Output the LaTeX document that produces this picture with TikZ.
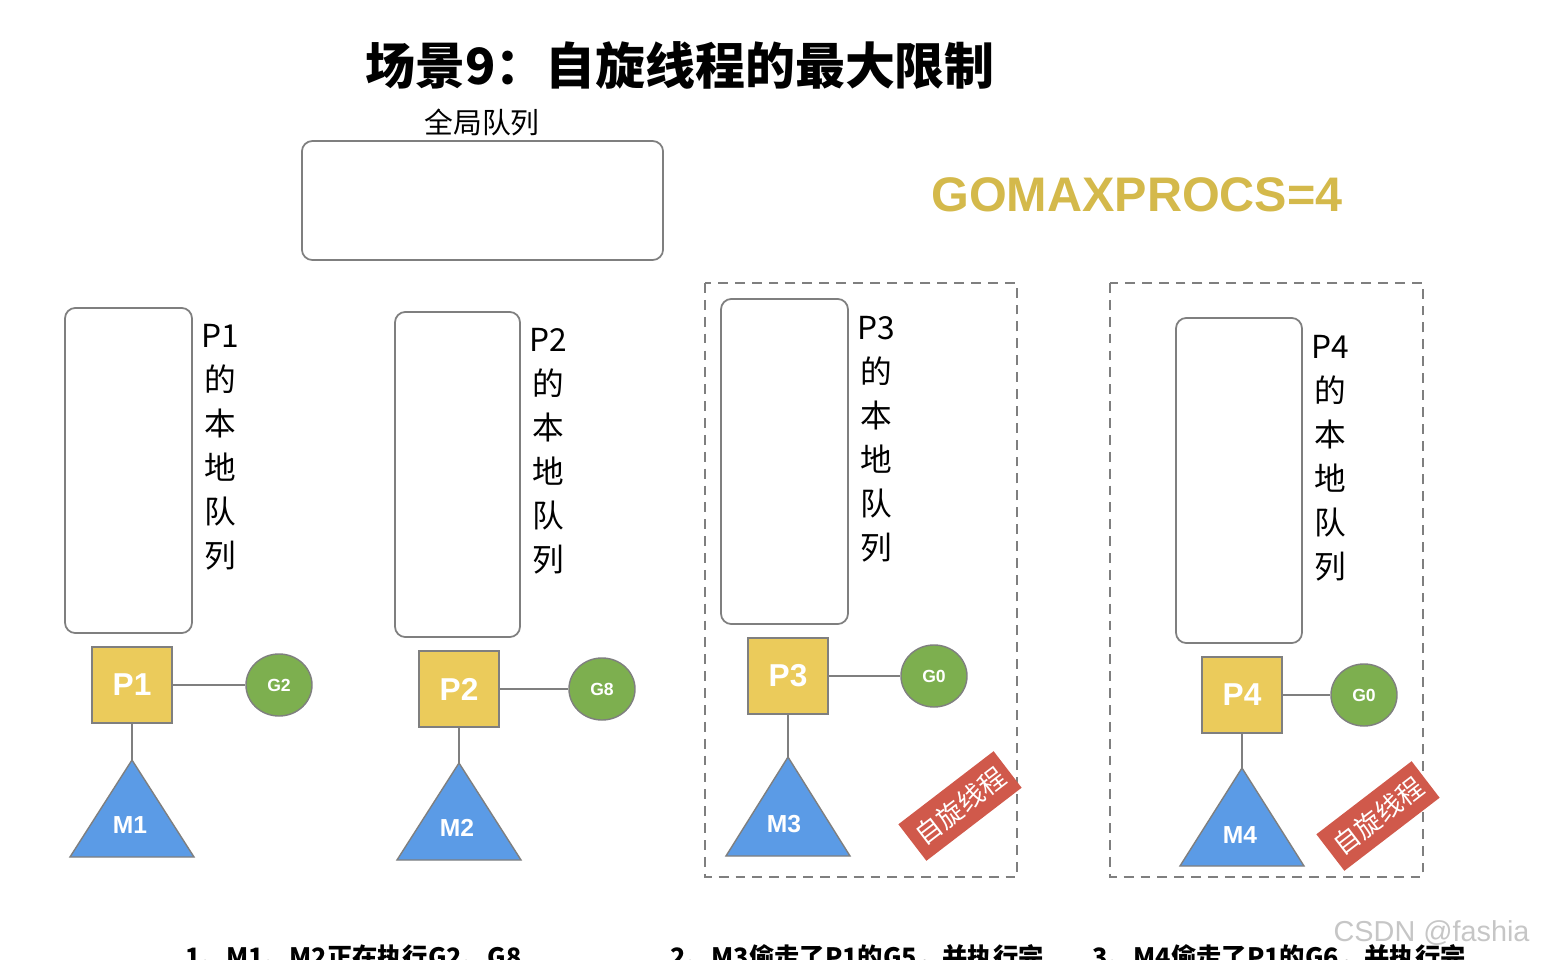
\documentclass[tikz,border=0pt]{standalone}
\usepackage{fontspec}
\setmainfont{Liberation Sans}
\newfontfamily\cjk{Noto Sans CJK SC}
\usetikzlibrary{positioning}
\usetikzlibrary{shapes.geometric}
\definecolor{pyellow}{HTML}{EBCB5B}
\definecolor{ggreen}{HTML}{7DAF4F}
\definecolor{mblue}{HTML}{5B9BE6}
\definecolor{spinred}{HTML}{D0594B}
\definecolor{maxgold}{HTML}{D4B94B}
\definecolor{edgegray}{HTML}{7F7F7F}

\begin{document}
\begin{tikzpicture}[x=0.01cm,y=-0.01cm,
queue/.style={draw=edgegray,line width=0.5pt,rounded corners=3pt,inner sep=0},
pbox/.style={draw=edgegray,fill=pyellow,minimum width=0.8cm,minimum height=0.76cm,inner sep=0,
  text=white,font=\bfseries\fontsize{9}{9}\selectfont},
gball/.style={ellipse,draw=edgegray,fill=ggreen,minimum width=0.66cm,minimum height=0.62cm,inner sep=0,
  text=white,font=\bfseries\fontsize{5}{5}\selectfont},
mtri/.style={draw=edgegray,fill=mblue},
mlabel/.style={text=white,font=\bfseries\fontsize{7}{7}\selectfont},
vlabel/.style={anchor=north,align=center,inner sep=0,font=\cjk\fontsize{9}{12.5}\selectfont},
spin/.style={fill=spinred,rotate=37.5,minimum width=1.2cm,minimum height=0.46cm,inner sep=0,
  text=white,font=\cjk\fontsize{7.5}{7.5}\selectfont},
dashbox/.style={draw=edgegray,line width=0.5pt,dash pattern=on 2.8pt off 2pt},
note/.style={anchor=base west,inner sep=0,font=\cjk\bfseries\fontsize{7.2}{7.2}\selectfont}]
\useasboundingbox (0,0) rectangle (1544,960);

% title
\node[font=\cjk\bfseries\fontsize{14.2}{14.2}\selectfont] (title) at (680,65) {场景9：自旋线程的最大限制};
\node[font=\cjk\fontsize{8.2}{8.2}\selectfont] (gqname) at (482,122) {全局队列};
\node[queue,minimum width=3.61cm,minimum height=1.19cm] (gq) at (482.5,200.5) {};
\node[text=maxgold,font=\bfseries\fontsize{13.8}{13.8}\selectfont] (maxp) at (1137,195) {GOMAXPROCS=4};

% spinning groups
\draw[dashbox] (705,283) rectangle (1017,877);
\draw[dashbox] (1110,283) rectangle (1423,877);

% local queues
\node[queue,minimum width=1.27cm,minimum height=3.25cm] (lq1) at (128.5,470.5) {};
\node[queue,minimum width=1.25cm,minimum height=3.25cm] (lq2) at (457.5,474.5) {};
\node[queue,minimum width=1.27cm,minimum height=3.25cm] (lq3) at (784.5,461.5) {};
\node[queue,minimum width=1.26cm,minimum height=3.25cm] (lq4) at (1239,480.5) {};
\node[vlabel] (lq1name) at (220,324) {P1\\的\\本\\地\\队\\列};
\node[vlabel] (lq2name) at (548,328) {P2\\的\\本\\地\\队\\列};
\node[vlabel] (lq3name) at (876,316) {P3\\的\\本\\地\\队\\列};
\node[vlabel] (lq4name) at (1330,335) {P4\\的\\本\\地\\队\\列};

% P
\node[pbox] (P1) at (132,685) {P1};
\node[pbox] (P2) at (459,689) {P2};
\node[pbox] (P3) at (788,676) {P3};
\node[pbox] (P4) at (1242,695) {P4};

% G
\node[gball] (G2) at (279,685) {G2};
\node[gball] (G8) at (602,689) {G8};
\node[gball] (G03) at (934,676) {G0};
\node[gball] (G04) at (1364,695) {G0};

% M
\coordinate (M1top) at (132,760);
\coordinate (M2top) at (459,763);
\coordinate (M3top) at (788,757);
\coordinate (M4top) at (1242,768);
\draw[mtri] (M1top) -- (194,857) -- (70,857) -- cycle;
\draw[mtri] (M2top) -- (521,860) -- (397,860) -- cycle;
\draw[mtri] (M3top) -- (850,856) -- (726,856) -- cycle;
\draw[mtri] (M4top) -- (1304,866) -- (1180,866) -- cycle;
\node[mlabel] (M1) at (130,825) {M1};
\node[mlabel] (M2) at (457,828) {M2};
\node[mlabel] (M3) at (784,824) {M3};
\node[mlabel] (M4) at (1240,835) {M4};

\draw[edgegray] (P1)--(G2);
\draw[edgegray] (P2)--(G8);
\draw[edgegray] (P3)--(G03);
\draw[edgegray] (P4)--(G04);
\draw[edgegray] (P1)--(M1top);
\draw[edgegray] (P2)--(M2top);
\draw[edgegray] (P3)--(M3top);
\draw[edgegray] (P4)--(M4top);

\node[spin] (spin3) at (960,806) {自旋线程};
\node[spin] (spin4) at (1378,816) {自旋线程};

% notes
\node[note] (note1) at (185,966) {1、M1、M2正在执行G2、G8};
\node[note] (note2) at (670,966) {2、M3偷走了P1的G5，并执行完};
\node[note] (note3) at (1092,966) {3、M4偷走了P1的G6，并执行完};
\node[anchor=east,text=gray!45,font=\fontsize{8.2}{8.2}\selectfont] (mark) at (1542,933) {CSDN @fashia};
\end{tikzpicture}
\end{document}
